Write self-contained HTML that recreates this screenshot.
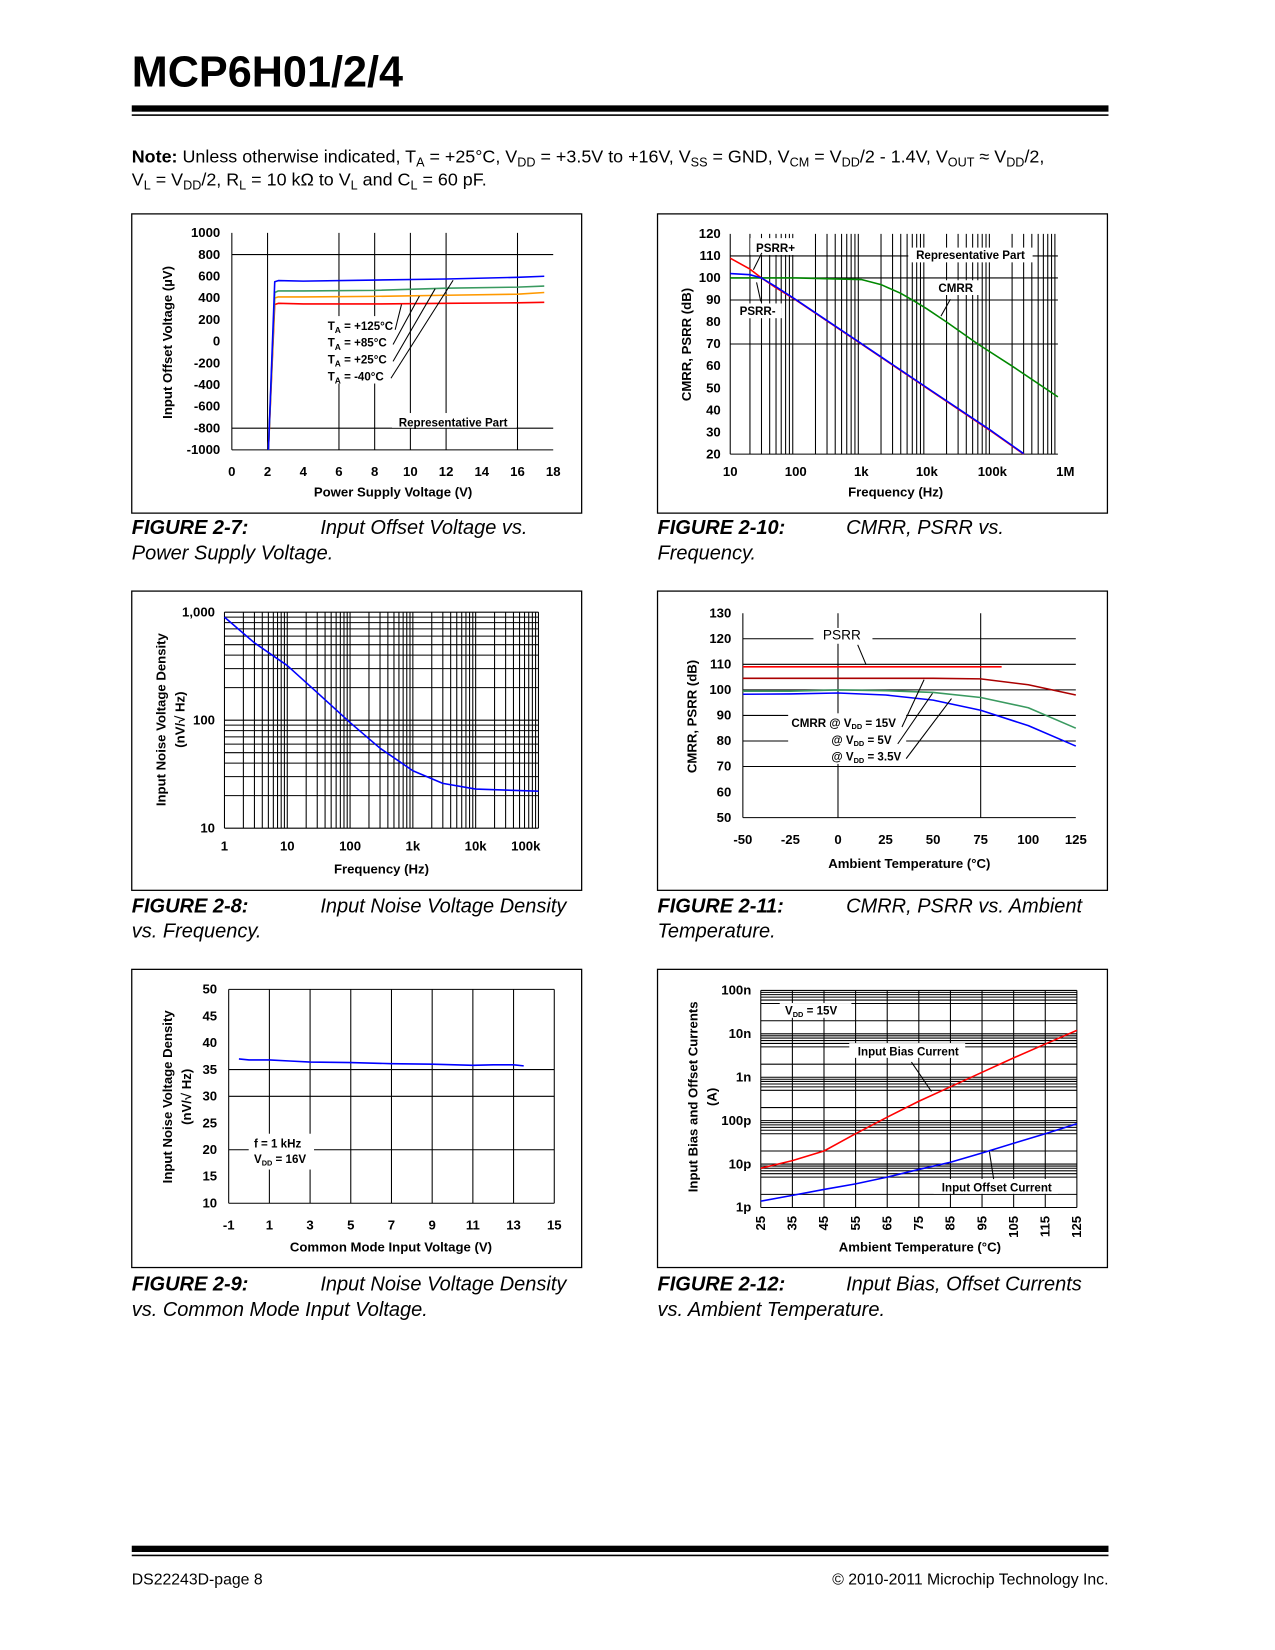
<!DOCTYPE html>
<html><head><meta charset="utf-8"><style>
html,body{margin:0;padding:0;background:#fff}
svg{display:block;font-family:"Liberation Sans",Arial,sans-serif}
.t{font-size:12.5px;font-weight:bold}
.sm{font-size:11px;font-weight:bold}
.cap{font-size:19px;font-style:italic}
</style></head><body>
<svg id="page" width="1275" height="1650" viewBox="0 0 1210 1566" xmlns="http://www.w3.org/2000/svg">
<text x="125" y="82" font-size="41" font-weight="bold">MCP6H01/2/4</text>
<rect x="125" y="100" width="927" height="6" fill="#000"/>
<rect x="125" y="108.5" width="927" height="1.5" fill="#000"/>
<text x="125" y="154" font-size="17"><tspan font-weight="bold">Note:</tspan> Unless otherwise indicated, T<tspan font-size="12" dy="4">A</tspan><tspan dy="-4"> = +25°C, V</tspan><tspan font-size="12" dy="4">DD</tspan><tspan dy="-4"> = +3.5V to +16V, V</tspan><tspan font-size="12" dy="4">SS</tspan><tspan dy="-4"> = GND, V</tspan><tspan font-size="12" dy="4">CM</tspan><tspan dy="-4"> = V</tspan><tspan font-size="12" dy="4">DD</tspan><tspan dy="-4">/2 - 1.4V, V</tspan><tspan font-size="12" dy="4">OUT</tspan><tspan dy="-4"> ≈ V</tspan><tspan font-size="12" dy="4">DD</tspan><tspan dy="-4">/2,</tspan></text>
<text x="125" y="176" font-size="17">V<tspan font-size="12" dy="4">L</tspan><tspan dy="-4"> = V</tspan><tspan font-size="12" dy="4">DD</tspan><tspan dy="-4">/2, R</tspan><tspan font-size="12" dy="4">L</tspan><tspan dy="-4"> = 10 kΩ to V</tspan><tspan font-size="12" dy="4">L</tspan><tspan dy="-4"> and C</tspan><tspan font-size="12" dy="4">L</tspan><tspan dy="-4"> = 60 pF.</tspan></text>

<g fill="none" stroke="#000" stroke-width="1.2">
<rect x="125" y="203" width="427" height="284"/>
<rect x="624" y="203" width="427" height="284"/>
<rect x="125" y="561" width="427" height="284"/>
<rect x="624" y="561" width="427" height="284"/>
<rect x="125" y="920" width="427" height="283"/>
<rect x="624" y="920" width="427" height="283"/>
</g>
<g id="marks"></g>

<g class="cap">
<text x="125" y="507"><tspan font-weight="bold">FIGURE 2-7:</tspan><tspan x="304">Input Offset Voltage vs.</tspan><tspan x="125" dy="24">Power Supply Voltage.</tspan></text>
<text x="624" y="507"><tspan font-weight="bold">FIGURE 2-10:</tspan><tspan x="803">CMRR, PSRR vs.</tspan><tspan x="624" dy="24">Frequency.</tspan></text>
<text x="125" y="866"><tspan font-weight="bold">FIGURE 2-8:</tspan><tspan x="304">Input Noise Voltage Density</tspan><tspan x="125" dy="24">vs. Frequency.</tspan></text>
<text x="624" y="866"><tspan font-weight="bold">FIGURE 2-11:</tspan><tspan x="803">CMRR, PSRR vs. Ambient</tspan><tspan x="624" dy="24">Temperature.</tspan></text>
<text x="125" y="1225"><tspan font-weight="bold">FIGURE 2-9:</tspan><tspan x="304">Input Noise Voltage Density</tspan><tspan x="125" dy="24">vs. Common Mode Input Voltage.</tspan></text>
<text x="624" y="1225"><tspan font-weight="bold">FIGURE 2-12:</tspan><tspan x="803">Input Bias, Offset Currents</tspan><tspan x="624" dy="24">vs. Ambient Temperature.</tspan></text>
</g>

<g class="t">
<text x="373" y="471" text-anchor="middle">Power Supply Voltage (V)</text>
<text transform="translate(163,325) rotate(-90)" text-anchor="middle">Input Offset Voltage (µV)</text>
<text x="850" y="471" text-anchor="middle">Frequency (Hz)</text>
<text transform="translate(656,327) rotate(-90)" text-anchor="middle">CMRR, PSRR (dB)</text>
<text x="362" y="829" text-anchor="middle">Frequency (Hz)</text>
<text transform="translate(157,683) rotate(-90)" text-anchor="middle">Input Noise Voltage Density</text>
<text transform="translate(175,683) rotate(-90)" text-anchor="middle">(nV/√ Hz)</text>
<text x="863" y="824" text-anchor="middle">Ambient Temperature (°C)</text>
<text transform="translate(661,680) rotate(-90)" text-anchor="middle">CMRR, PSRR (dB)</text>
<text x="371" y="1188" text-anchor="middle">Common Mode Input Voltage (V)</text>
<text transform="translate(163,1041) rotate(-90)" text-anchor="middle">Input Noise Voltage Density</text>
<text transform="translate(181,1041) rotate(-90)" text-anchor="middle">(nV/√ Hz)</text>
<text x="873" y="1188" text-anchor="middle">Ambient Temperature (°C)</text>
<text transform="translate(662,1041) rotate(-90)" text-anchor="middle">Input Bias and Offset Currents</text>
<text transform="translate(680,1041) rotate(-90)" text-anchor="middle">(A)</text>
</g>

<rect x="125" y="1467" width="927" height="6" fill="#000"/>
<rect x="125" y="1475.5" width="927" height="1.5" fill="#000"/>
<text x="125" y="1504" font-size="15">DS22243D-page 8</text>
<text x="1052" y="1504" font-size="15" text-anchor="end">© 2010-2011 Microchip Technology Inc.</text>
</svg>
<script>
// Fig 2-7
const f7Ticks=[0,2,4,6,8,10,12,14,16,18];
const f7YTicks=[1000,800,600,400,200,0,-200,-400,-600,-800,-1000];
const f7Vdd=[2.05,2.4,2.6,4,8,12,16,17.5];
const f7Blue=[-1000,550,560,555,565,575,590,600];
const f7Green=[-1000,450,465,465,470,490,500,510];
const f7Orange=[-1000,400,410,410,415,425,435,450];
const f7Red=[-1000,340,350,345,345,350,355,360];
// Fig 2-10
const f10Freq=[10,20,30,50,100,1000,10000,100000,300000];
const f10PsrrP=[109,104,100,95.5,90,70,50,30,20];
const f10PsrrM=[102,101.5,100,96,90.2,70.2,50.2,30.3,20.2];
const f10CmrrF=[10,100,1000,2000,4000,6000,10000,20000,60000,200000,1000000];
const f10Cmrr=[100,100,99.3,97,93,90,86,80,70,60,46];
const f10XLabels=['10','100','1k','10k','100k','1M'];
const f10YTicks=[120,110,100,90,80,70,60,50,40,30,20];
// Fig 2-8
const f8Freq=[1,3,10,30,100,300,1000,3000,10000,100000];
const f8Noise=[900,520,320,180,95,55,34,26,23,22];
const f8XLabels=['1','10','100','1k','10k','100k'];
const f8YLabels=['1,000','100','10'];
// Fig 2-11
const f11Temp=[-50,-25,0,25,50,75,100,125];
const f11Psrr=[109,109,109,109,109,109,109];
const f11Cmrr15=[104.5,104.5,104.5,104.5,104.5,104.3,102,98];
const f11Cmrr5=[99.5,99.5,100,99.7,99,97,93,85];
const f11Cmrr35=[98.3,98.4,98.8,98,96,92,86,78];
const f11XTicks=[-50,-25,0,25,50,75,100,125];
const f11YTicks=[130,120,110,100,90,80,70,60,50];
// Fig 2-9
const f9Vcm=[-0.5,0,1,2,3,5,7,9,11,12,13,13.5];
const f9Noise=[37,36.8,36.8,36.6,36.4,36.3,36.1,36,35.8,35.9,35.9,35.7];
const f9XTicks=[-1,1,3,5,7,9,11,13,15];
const f9YTicks=[50,45,40,35,30,25,20,15,10];
// Fig 2-12
const f12Temp=[25,35,45,55,65,75,85,95,105,115,125];
const f12Bias=[8e-12,12e-12,20e-12,50e-12,120e-12,280e-12,600e-12,1.3e-9,2.8e-9,5.8e-9,12e-9];
const f12Offset=[1.4e-12,1.9e-12,2.6e-12,3.5e-12,5e-12,7.5e-12,11e-12,18e-12,30e-12,50e-12,85e-12];
const f12YLabels=['100n','10n','1n','100p','10p','1p'];

const NS='http://www.w3.org/2000/svg';
const G=document.getElementById('marks');
function mk(tag,a){const e=document.createElementNS(NS,tag);for(const k in a)e.setAttribute(k,a[k]);G.appendChild(e);return e;}
function ln(x1,y1,x2,y2,w){return mk('line',{x1,y1,x2,y2,stroke:'#000','stroke-width':w||1});}
function tx(x,y,s,anchor,cls){const e=mk('text',{x,y,'text-anchor':anchor||'middle',class:cls||'t'});e.textContent=s;return e;}
function pl(xs,ys,fx,fy,col,w){const d=xs.map((v,i)=>fx(v).toFixed(1)+','+fy(ys[i]).toFixed(1)).join(' ');return mk('polyline',{points:d,fill:'none',stroke:col,'stroke-width':w||1.5,'stroke-linejoin':'round'});}
let e;

// Fig 2-7
const x7=v=>220+v*(305/18), y7=v=>324-v*0.103;
[2,6,8,10,12,16].forEach(v=>{e=ln(x7(v),221,x7(v),427);

});
[800,-800].forEach(v=>{e=ln(220,y7(v),525,y7(v));

});
e=ln(220,221,220,427);


e=ln(220,427,525,427);


[[372,392,118,14],[305,300,72,64]].forEach(b=>{e=mk('rect',{x:b[0],y:b[1],width:b[2],height:b[3],fill:'#fff'});

});
f7YTicks.forEach(v=>{e=tx(209,y7(v)+4,String(v),'end');

});
f7Ticks.forEach(v=>{e=tx(x7(v),452,String(v));

});
[[f7Red,'#f00'],[f7Orange,'#f90'],[f7Green,'#3a9a60'],[f7Blue,'#00f']].forEach(s=>{e=pl(f7Vdd,s[0],x7,y7,s[1]);

});
[['+125°C',313,[375,313,381,289]],['+85°C',329,[373,327,398,281]],['+25°C',345,[373,343,413,274]],['-40°C',361,[371,359,430,266]]].forEach(r=>{
e=mk('text',{x:311,y:r[1],class:'sm'});e.innerHTML='T<tspan font-size="8" dy="3">A</tspan><tspan dy="-3"> = '+r[0]+'</tspan>';


e=ln(r[2][0],r[2][1],r[2][2],r[2][3],1);

});
e=tx(430,405,'Representative Part','middle','sm');



// Fig 2-10
const x10=f=>693+(Math.log10(f)-1)*62.2, y10=v=>431-(v-20)*2.09;
for(let d=1;d<6;d++)for(let m=2;m<=9;m++){const f=m*Math.pow(10,d);e=ln(x10(f),222,x10(f),431,1);

}
[110,100,90,70].forEach(v=>{e=ln(693,y10(v),1004,y10(v));

});
e=ln(693,222,693,431);


e=ln(693,431,1004,431);


[[712,226,48,16],[862,235,118,14],[883,266,48,14],[698,288,44,14]].forEach(b=>{e=mk('rect',{x:b[0],y:b[1],width:b[2],height:b[3],fill:'#fff'});

});
f10YTicks.forEach(v=>{e=tx(684,y10(v)+4,String(v),'end');

});
f10XLabels.forEach((s,i)=>{e=tx(x10(Math.pow(10,i+1))+(i==5?7:0),452,s);

});
e=pl(f10CmrrF,f10Cmrr,x10,y10,'#080');


e=pl(f10Freq,f10PsrrP,x10,y10,'#f00');


e=pl(f10Freq,f10PsrrM,x10,y10,'#00f');


[['PSRR+',736,239],['Representative Part',921,246],['CMRR',907,277],['PSRR-',719,299]].forEach(r=>{e=tx(r[1],r[2],r[0],'middle','sm');

});
[[723,240,715,256],[722,286,718,268],[902,284,893,300]].forEach(a=>{e=ln(a[0],a[1],a[2],a[3]);

});

// Fig 2-8
const x8=f=>213+Math.log10(f)*59.6, y8=v=>786-(Math.log10(v)-1)*102.5;
for(let d=0;d<5;d++)for(let m=1;m<=9;m++){const f=m*Math.pow(10,d);e=ln(x8(f),581,x8(f),786,1);

}
e=ln(x8(1e5),581,x8(1e5),786);


for(let d=1;d<3;d++)for(let m=1;m<=9;m++){const v=m*Math.pow(10,d);e=ln(213,y8(v),511,y8(v),1);

}
e=ln(213,581,511,581);


f8YLabels.forEach((s,i)=>{e=tx(204,y8(1000/Math.pow(10,i))+4,s,'end');

});
f8XLabels.forEach((s,i)=>{e=tx(x8(Math.pow(10,i))-(i==5?12:0),807,s);

});
e=pl(f8Freq,f8Noise,x8,y8,'#00f');



// Fig 2-11
const x11=v=>705+(v+50)*(316/175), y11=v=>776-(v-50)*2.425;
[0,75].forEach(v=>{e=ln(x11(v),582,x11(v),776);

});
[120,110,100,90,80,70].forEach(v=>{e=ln(705,y11(v),1021,y11(v));

});
e=ln(705,582,705,776);


e=ln(705,776,1021,776);


[[772,596,56,15],[748,677,112,48]].forEach(b=>{e=mk('rect',{x:b[0],y:b[1],width:b[2],height:b[3],fill:'#fff'});

});
f11YTicks.forEach(v=>{e=tx(694,y11(v)+4,String(v),'end');

});
f11XTicks.forEach(v=>{e=tx(x11(v),801,String(v));

});
e=pl(f11Temp.slice(0,7),f11Psrr,v=>x11(Math.min(v,86)),y11,'#f00');


[[f11Cmrr15,'#a00'],[f11Cmrr5,'#3a9a60'],[f11Cmrr35,'#00f']].forEach(s=>{e=pl(f11Temp,s[0],x11,y11,s[1]);

});
e=tx(799,607,'PSRR','middle');e.setAttribute('style','font-size:13px;font-weight:normal');


e=ln(814,612,822,631);


[['CMRR @ V','= 15V',751,690],['@ V','= 5V',789,706],['@ V','= 3.5V',789,722]].forEach(r=>{e=mk('text',{x:r[2],y:r[3],class:'sm'});e.innerHTML=r[0]+'<tspan font-size="7" dy="2">DD</tspan><tspan dy="-2"> '+r[1]+'</tspan>';

});
[[856,690,877,645],[852,706,885,658],[860,720,903,663]].forEach(a=>{e=ln(a[0],a[1],a[2],a[3]);

});

// Fig 2-9
const x9=v=>217+(v+1)*(309/16), y9=v=>1142-(v-10)*5.075;
[1,3,5,7,9,11,13,15].forEach(v=>{e=ln(x9(v),939,x9(v),1142);

});
[50,35,30,20].forEach(v=>{e=ln(217,y9(v),x9(15),y9(v));

});
e=ln(217,939,217,1142);


e=ln(217,1142,x9(15),1142);


e=mk('rect',{x:236,y:1076,width:62,height:34,fill:'#fff'});


f9YTicks.forEach(v=>{e=tx(206,y9(v)+4,String(v),'end');

});
f9XTicks.forEach(v=>{e=tx(x9(v),1167,String(v));

});
e=pl(f9Vcm,f9Noise,x9,y9,'#00f');


e=tx(241,1089,'f = 1 kHz','start','sm');


e=mk('text',{x:241,y:1104,class:'sm'});e.innerHTML='V<tspan font-size="7" dy="2">DD</tspan><tspan dy="-2"> = 16V</tspan>';



// Fig 2-12
const x12=v=>722+(v-25)*3, y12=v=>1146-(Math.log10(v)+12)*41.2;
f12Temp.forEach(v=>{e=ln(x12(v),940,x12(v),1146);

});
for(let d=-12;d<-7;d++)for(let m=1;m<=9;m++){if(m>1&&m<5&&m!=2)continue;const v=m*Math.pow(10,d);e=ln(722,y12(v),1022,y12(v),1);

}
e=ln(722,940,1022,940);


[[740,952,68,14],[806,990,110,14],[886,1119,118,14]].forEach(b=>{e=mk('rect',{x:b[0],y:b[1],width:b[2],height:b[3],fill:'#fff'});

});
f12YLabels.forEach((s,i)=>{e=tx(713,y12(Math.pow(10,-7-i))+4,s,'end');

});
f12Temp.forEach(v=>{e=tx(0,0,String(v),'end');e.setAttribute('transform','translate('+(x12(v)+4)+',1154) rotate(-90)');

});
e=pl(f12Temp,f12Bias,x12,y12,'#f00');


e=pl(f12Temp,f12Offset,x12,y12,'#00f');


e=mk('text',{x:745,y:963,class:'sm'});e.innerHTML='V<tspan font-size="7" dy="2">DD</tspan><tspan dy="-2"> = 15V</tspan>';


e=tx(862,1002,'Input Bias Current','middle','sm');


e=tx(946,1131,'Input Offset Current','middle','sm');


[[865,1008,884,1036],[943,1119,939,1093]].forEach(a=>{e=ln(a[0],a[1],a[2],a[3]);

});
</script>
</body></html>
